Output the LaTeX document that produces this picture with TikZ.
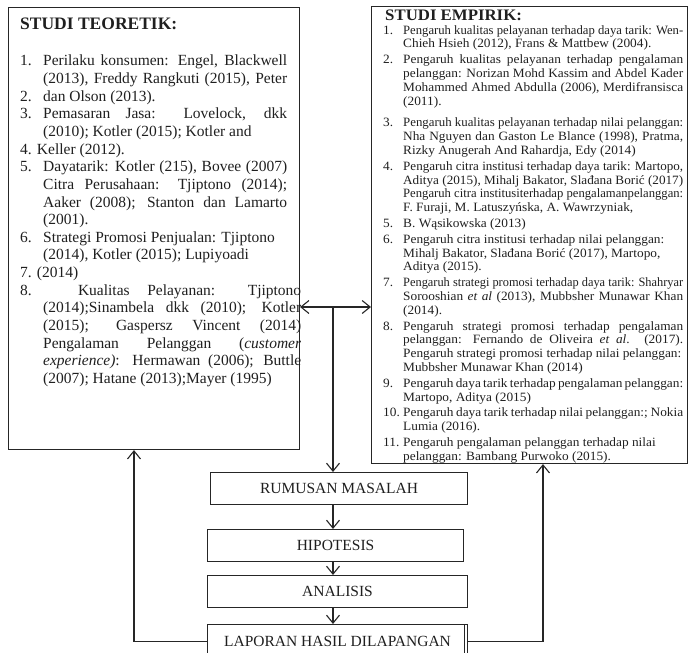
\documentclass[tikz,border=0pt]{standalone}
\usepackage{fontspec}
\usepackage{graphicx}
\setmainfont{Liberation Serif}
\newfontfamily\empfont{Liberation Serif}[FakeStretch=1.05]
\usetikzlibrary{arrows.meta}
\newlength{\labw}
\newsavebox{\fitbox}
\newcommand{\lnItem}[1]{\par\noindent\makebox[\labw][l]{#1}}
\newcommand{\lnCont}{\par\noindent\hspace*{\labw}}
\newcommand{\lnJust}[1]{\sbox{\fitbox}{#1}%
  \ifdim\wd\fitbox>\dimexpr\hsize-\labw\relax
    \resizebox{\dimexpr\hsize-\labw\relax}{\height}{\usebox{\fitbox}}%
  \else\makebox[\dimexpr\hsize-\labw\relax][s]{#1}\fi}
\newcommand{\lnWide}[1]{\makebox[\dimexpr\hsize-\labw+14pt\relax][s]{#1}}
\newcommand{\itemgap}[1]{\par\vspace{#1}}
\begin{document}
\begin{tikzpicture}[x=1pt,y=-1pt,
  >={Straight Barb[length=8pt,width=13pt]},
  frame/.style={draw=black!85, line width=1.1pt, inner sep=0pt, anchor=north west},
  stepbox/.style={draw=black!85, line width=1.1pt, inner sep=0pt, anchor=north west,
    font=\fontsize{15.5}{18}\selectfont, text=black!88},
  conn/.style={draw=black!85, line width=1.1pt},
  txt/.style={inner sep=0pt, anchor=north west, align=justify, text=black!88}
]
\useasboundingbox (0,0) rectangle (688,653);

% frames
\node[frame, minimum width=291pt, minimum height=442pt] (teo) at (8,7) {};
\node[frame, minimum width=316pt, minimum height=457pt] (emp) at (371,6) {};

% left text
\begin{scope}
\clip (teo.north west) rectangle (teo.south east);
\node[txt, text width=267pt, font=\fontsize{15.5}{17.65}\selectfont] (teotxt) at (20,17.4) {%
\setlength{\labw}{23pt}%
{\fontsize{17.5}{20}\selectfont\bfseries STUDI TEORETIK:\par}
\vspace{19pt}
\lnItem{1.}\lnJust{Perilaku konsumen: Engel, Blackwell}
\lnCont\lnJust{(2013), Freddy Rangkuti (2015), Peter}
\lnItem{2.}dan Olson (2013).
\lnItem{3.}\lnJust{Pemasaran Jasa: Lovelock, dkk}
\lnCont (2010); Kotler (2015); Kotler and
\par\noindent 4. Keller (2012).
\lnItem{5.}\lnJust{Dayatarik: Kotler (215), Bovee (2007)}
\lnCont\lnJust{Citra Perusahaan: Tjiptono (2014);}
\lnCont\lnJust{Aaker (2008); Stanton dan Lamarto}
\lnCont (2001).
\lnItem{6.}Strategi Promosi Penjualan: Tjiptono
\lnCont (2014), Kotler (2015); Lupiyoadi
\par\noindent 7. (2014)
\par\noindent\makebox[\dimexpr\hsize+14pt\relax][s]{8. Kualitas Pelayanan: Tjiptono}
\lnCont\lnWide{(2014);Sinambela dkk (2010); Kotler}
\lnCont\lnWide{(2015); Gaspersz Vincent (2014)}
\lnCont\lnWide{Pengalaman Pelanggan (\textit{customer}}
\lnCont\lnWide{\textit{experience)}: Hermawan (2006); Buttle}
\lnCont (2007); Hatane (2013);Mayer (1995)\par}; 
\end{scope}

% right text
\node[txt, text width=300pt, font=\empfont\fontsize{12.7}{13.8}\selectfont] (emptxt) at (383,9.5) {%
\setlength{\labw}{20pt}%
{\fontsize{16}{18}\selectfont\bfseries\hspace*{2pt}STUDI EMPIRIK:\par}
\lnItem{1.}\lnJust{Pengaruh kualitas pelayanan terhadap daya tarik: Wen-}
\lnCont Chieh Hsieh (2012), Frans \& Mattbew (2004).
\itemgap{2pt}
\lnItem{2.}\lnJust{Pengaruh kualitas pelayanan terhadap pengalaman}
\lnCont\lnJust{pelanggan: Norizan Mohd Kassim and Abdel Kader}
\lnCont\lnJust{Mohammed Ahmed Abdulla (2006), Merdifransisca}
\lnCont (2011).
\itemgap{8pt}
\lnItem{3.}\lnJust{Pengaruh kualitas pelayanan terhadap nilai pelanggan:}
\lnCont\lnJust{Nha Nguyen dan Gaston Le Blance (1998), Pratma,}
\lnCont Rizky Anugerah And Rahardja, Edy (2014)
\itemgap{2pt}
\lnItem{4.}\lnJust{Pengaruh citra institusi terhadap daya tarik: Martopo,}
\lnCont\lnJust{Aditya (2015), Mihalj Bakator, Slađana Borić (2017)}
\lnCont\lnJust{Pengaruh citra institusiterhadap pengalamanpelanggan:}
\lnCont F. Furaji, M. Latuszyńska, A. Wawrzyniak,
\itemgap{2pt}
\lnItem{5.}B. Wąsikowska (2013)
\itemgap{2pt}
\lnItem{6.}Pengaruh citra institusi terhadap nilai pelanggan:
\lnCont Mihalj Bakator, Slađana Borić (2017), Martopo,
\lnCont Aditya (2015).
\itemgap{2pt}
\lnItem{7.}\lnJust{Pengaruh strategi promosi terhadap daya tarik: Shahryar}
\lnCont\lnJust{Sorooshian \textit{et al} (2013), Mubbsher Munawar Khan}
\lnCont (2014).
\itemgap{2pt}
\lnItem{8.}\lnJust{Pengaruh strategi promosi terhadap pengalaman}
\lnCont\lnJust{pelanggan: Fernando de Oliveira \textit{et al}. (2017).}
\lnCont Pengaruh strategi promosi terhadap nilai pelanggan:
\lnCont Mubbsher Munawar Khan (2014)
\itemgap{2pt}
\lnItem{9.}Pengaruh daya tarik terhadap pengalaman pelanggan:
\lnCont Martopo, Aditya (2015)
\itemgap{2pt}
\lnItem{10.}Pengaruh daya tarik terhadap nilai pelanggan:; Nokia
\lnCont Lumia (2016).
\itemgap{2pt}
\lnItem{11.}Pengaruh pengalaman pelanggan terhadap nilai
\lnCont pelanggan: Bambang Purwoko (2015).\par};

% process boxes
\node[stepbox, minimum width=257pt, minimum height=32pt] (rum) at (210,472) {RUMUSAN MASALAH};
\node[stepbox, minimum width=256pt, minimum height=32pt] (hip) at (207,529) {HIPOTESIS};
\node[stepbox, minimum width=260pt, minimum height=32pt] (ana) at (207,575) {ANALISIS};
\node[stepbox, minimum width=260pt, minimum height=34pt] (lap) at (207,624) {LAPORAN HASIL DILAPANGAN};
\draw[conn] ([xshift=-4pt]lap.north east) -- ([xshift=-4pt]lap.south east);

% connectors
\coordinate (junc) at (333,307);
\coordinate (lk) at (134,641);
\coordinate (rk) at (543,641);
\draw[conn,<->] (teo.east |- junc) -- (emp.west |- junc);
\draw[conn,->] (junc) -- (rum.north -| junc);
\draw[conn,->] (rum.south -| junc) -- (hip.north -| junc);
\draw[conn,->] (hip.south -| junc) -- (ana.north -| junc);
\draw[conn,->] (ana.south -| junc) -- (lap.north -| junc);
\draw[conn,->] (lap.west) -| (lk |- teo.south);
\draw[conn,->] (lap.east) -| (rk |- emp.south);
\end{tikzpicture}
\end{document}
